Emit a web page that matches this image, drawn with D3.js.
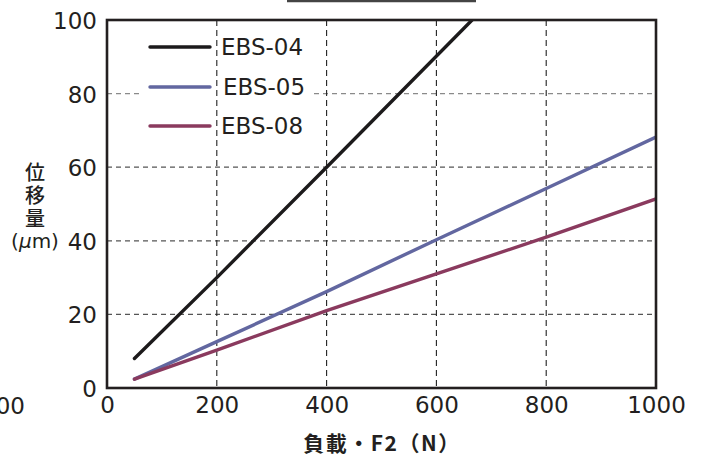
<!DOCTYPE html>
<html>
<head>
<meta charset="utf-8">
<script src="https://cdn.jsdelivr.net/npm/d3@7"></script>
<style>
  body { margin: 0; background: #fff; }
  svg { display: block; }
</style>
</head>
<body>
<svg width="704" height="460"></svg>
<script>
// load (N) vs displacement (um)
const series = ['EBS-04', 'EBS-05', 'EBS-08'];
const colors = ['#1c1a1b', '#6267a0', '#8a3a5e'];
const ebs04 = [[50, 8], [200, 30], [400, 60], [665, 100]];
const ebs05 = [[50, 2.4], [200, 12.6], [400, 26.2], [600, 40.3], [800, 54.2], [1000, 68.2]];
const ebs08 = [[50, 2.4], [200, 10.3], [400, 21], [600, 31], [800, 41], [1000, 51.4]];
const xTicks = [0, 200, 400, 600, 800, 1000];
const yTicks = [0, 20, 40, 60, 80, 100];
const yTitle = '位移量';
const xTitle = '負載・F2（N）';
const strayLabel = '1000'; // cut-off label of the neighbouring chart

const svg = d3.select('svg');
const m = { left: 107, right: 656, top: 20, bottom: 388 };

const x = d3.scaleLinear().domain([0, 1000]).range([m.left, m.right]);
const y = d3.scaleLinear().domain([0, 100]).range([m.bottom, m.top]);

// bit of a frame cut off at the very top
svg.append('line')
  .attr('x1', 287).attr('x2', 476).attr('y1', 1).attr('y2', 1)
  .attr('stroke', '#444').attr('stroke-width', 2.5);

// horizontal grid (grey dashes)
svg.append('g')
  .selectAll('line')
  .data(yTicks.slice(1, -1))
  .join('line')
  .attr('x1', m.left).attr('x2', m.right)
  .attr('y1', (d) => y(d)).attr('y2', (d) => y(d))
  .attr('stroke', (d) => (d === 80 ? '#8a8a8a' : '#555'))
  .attr('stroke-width', 1.3)
  .attr('stroke-dasharray', '5,4');

// white patch behind legend text
svg.append('rect')
  .attr('x', 143).attr('y', 32).attr('width', 168).attr('height', 104)
  .attr('fill', '#fff');

// vertical grid (black dashes)
svg.append('g')
  .selectAll('line')
  .data(xTicks.slice(1, -1))
  .join('line')
  .attr('x1', (d) => x(d)).attr('x2', (d) => x(d))
  .attr('y1', m.top).attr('y2', m.bottom)
  .attr('stroke', '#222')
  .attr('stroke-width', 1.1)
  .attr('stroke-dasharray', '6,4');

svg.append('defs').append('clipPath').attr('id', 'plot')
  .append('rect')
  .attr('x', m.left).attr('y', m.top)
  .attr('width', m.right - m.left).attr('height', m.bottom - m.top);

const line = d3.line().x((d) => x(d[0])).y((d) => y(d[1]));

svg.append('g')
  .attr('clip-path', 'url(#plot)')
  .selectAll('path')
  .data([ebs04, ebs05, ebs08])
  .join('path')
  .attr('d', line)
  .attr('fill', 'none')
  .attr('stroke', (d, i) => colors[i])
  .attr('stroke-width', 3.4)
  .attr('stroke-linecap', 'round');

// frame
svg.append('rect')
  .attr('x', m.left).attr('y', m.top)
  .attr('width', m.right - m.left).attr('height', m.bottom - m.top)
  .attr('fill', 'none')
  .attr('stroke', '#231f20')
  .attr('stroke-width', 2.6);

// axes, labels only
const font = '"DejaVu Sans", sans-serif';

const yAxis = svg.append('g')
  .attr('transform', `translate(${m.left},0)`)
  .call(d3.axisLeft(y).tickValues(yTicks).tickSize(0).tickPadding(10));
yAxis.select('.domain').remove();
yAxis.selectAll('text')
  .attr('dy', '0.37em')
  .style('font-family', font).style('font-size', '23px').attr('fill', '#231f20');

const xAxis = svg.append('g')
  .attr('transform', `translate(0,${m.bottom})`)
  .call(d3.axisBottom(x).tickValues(xTicks).tickFormat(d3.format('d')).tickSize(0).tickPadding(9));
xAxis.select('.domain').remove();
xAxis.selectAll('text')
  .style('font-family', font).style('font-size', '23px').attr('fill', '#231f20');

svg.append('text')
  .attr('x', 25).attr('y', 414)
  .attr('text-anchor', 'end')
  .style('font-family', font).style('font-size', '23px')
  .attr('fill', '#231f20')
  .text(strayLabel);

// legend
const legend = svg.append('g')
  .selectAll('g')
  .data(series)
  .join('g')
  .attr('transform', (d, i) => `translate(0,${[47, 87, 126][i]})`);

legend.append('line')
  .attr('x1', 150).attr('x2', 210)
  .attr('stroke', (d, i) => colors[i])
  .attr('stroke-width', 3.4)
  .attr('stroke-linecap', 'round');

legend.append('text')
  .attr('x', (d, i) => (i === 1 ? 223 : 221))
  .attr('y', 8)
  .style('font-family', font).style('font-size', '23px')
  .attr('fill', '#231f20')
  .text((d) => d);

// axis titles: y title set vertically
svg.append('text')
  .attr('x', 35).attr('y', 162)
  .style('writing-mode', 'vertical-rl')
  .style('text-orientation', 'upright')
  .style('letter-spacing', '3px')
  .style('font-family', '"Noto Sans CJK JP", sans-serif')
  .style('font-size', '20px')
  .style('font-weight', 500)
  .attr('fill', '#231f20')
  .text(yTitle);

const unit = svg.append('text')
  .attr('x', 35).attr('y', 248)
  .attr('text-anchor', 'middle')
  .style('font-family', font).style('font-size', '20px')
  .attr('fill', '#231f20');
unit.append('tspan').text('(');
unit.append('tspan').style('font-style', 'italic').text('μ');
unit.append('tspan').text('m)');

svg.append('text')
  .attr('x', 382).attr('y', 451)
  .attr('text-anchor', 'middle')
  .style('font-family', '"Noto Sans CJK JP", sans-serif')
  .style('font-size', '21px')
  .style('font-weight', 700)
  .style('letter-spacing', '1.5px')
  .attr('fill', '#231f20')
  .text(xTitle);
</script>
</body>
</html>
